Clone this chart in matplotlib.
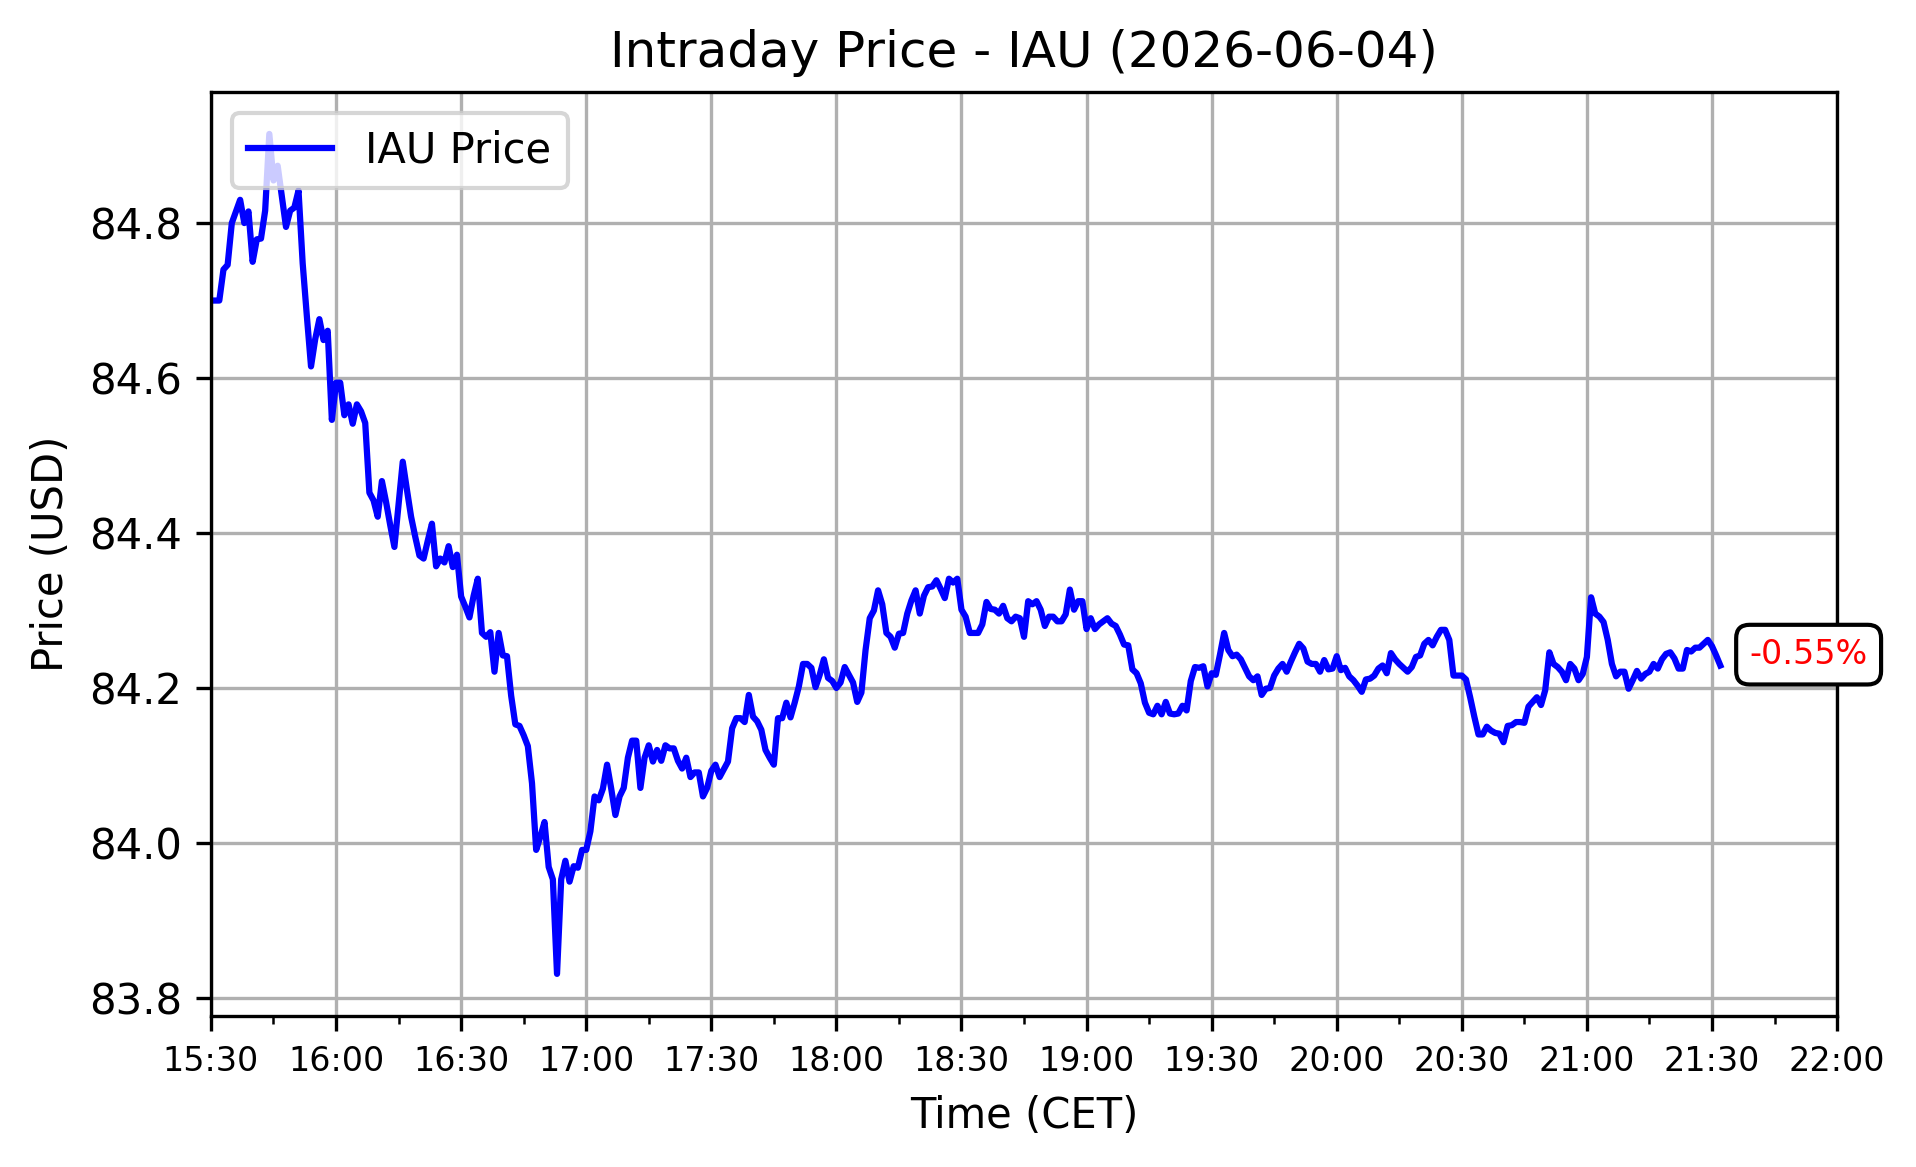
import numpy as np
import pandas as pd
import matplotlib
matplotlib.use('Agg')
import matplotlib.pyplot as plt
import matplotlib.dates as mdates

# IAU Minutenkurse ab 15:30 (CET)
start_time = '2026-06-04 15:30'
prices = [
    84.70, 84.70, 84.70, 84.74, 84.746, 84.80, 84.815, 84.83, 84.80, 84.815,
    84.75, 84.779, 84.78, 84.816, 84.915, 84.855, 84.874, 84.835, 84.795, 84.816,
    84.82, 84.842, 84.748, 84.68, 84.615, 84.65, 84.676, 84.649, 84.661, 84.546,
    84.594, 84.594, 84.552, 84.566, 84.541, 84.566, 84.557, 84.542, 84.452, 84.442,
    84.421, 84.467, 84.44, 84.41, 84.382, 84.437, 84.492, 84.456, 84.421, 84.395,
    84.371, 84.367, 84.39, 84.412, 84.357, 84.367, 84.362, 84.383, 84.356, 84.372,
    84.318, 84.305, 84.291, 84.319, 84.341, 84.271, 84.266, 84.272, 84.221, 84.271,
    84.242, 84.241, 84.19, 84.153, 84.151, 84.139, 84.125, 84.077, 83.991, 84.008,
    84.027, 83.969, 83.953, 83.831, 83.953, 83.977, 83.95, 83.97, 83.968, 83.991,
    83.991, 84.015, 84.06, 84.055, 84.07, 84.101, 84.07, 84.036, 84.06, 84.071,
    84.11, 84.132, 84.132, 84.071, 84.11, 84.126, 84.105, 84.12, 84.106, 84.126,
    84.122, 84.122, 84.106, 84.096, 84.11, 84.085, 84.091, 84.091, 84.06, 84.071,
    84.093, 84.101, 84.085, 84.095, 84.105, 84.148, 84.161, 84.161, 84.156, 84.191,
    84.163, 84.157, 84.146, 84.12, 84.11, 84.101, 84.161, 84.161, 84.181, 84.162,
    84.181, 84.202, 84.231, 84.231, 84.226, 84.201, 84.217, 84.237, 84.213, 84.209,
    84.2, 84.207, 84.227, 84.217, 84.207, 84.182, 84.194, 84.249, 84.29, 84.3,
    84.326, 84.308, 84.271, 84.266, 84.252, 84.27, 84.271, 84.296, 84.313, 84.326,
    84.296, 84.319, 84.33, 84.331, 84.339, 84.328, 84.316, 84.341, 84.336, 84.341,
    84.301, 84.292, 84.271, 84.271, 84.271, 84.282, 84.311, 84.302, 84.301, 84.296,
    84.306, 84.29, 84.286, 84.292, 84.29, 84.266, 84.312, 84.308, 84.312, 84.301,
    84.28, 84.292, 84.292, 84.286, 84.286, 84.295, 84.327, 84.301, 84.312, 84.312,
    84.276, 84.29, 84.276, 84.282, 84.286, 84.29, 84.283, 84.28, 84.269, 84.256,
    84.255, 84.224, 84.219, 84.206, 84.181, 84.168, 84.166, 84.177, 84.166, 84.182,
    84.167, 84.166, 84.167, 84.177, 84.171, 84.209, 84.227, 84.226, 84.228, 84.202,
    84.219, 84.217, 84.243, 84.271, 84.249, 84.241, 84.243, 84.237, 84.226, 84.215,
    84.21, 84.215, 84.191, 84.199, 84.2, 84.216, 84.225, 84.231, 84.221, 84.234,
    84.246, 84.257, 84.251, 84.234, 84.231, 84.231, 84.221, 84.236, 84.224, 84.225,
    84.241, 84.223, 84.226, 84.215, 84.21, 84.203, 84.195, 84.211, 84.212, 84.216,
    84.225, 84.229, 84.219, 84.245, 84.237, 84.231, 84.226, 84.221, 84.227, 84.24,
    84.242, 84.257, 84.262, 84.255, 84.266, 84.275, 84.275, 84.262, 84.216, 84.216,
    84.216, 84.211, 84.188, 84.163, 84.14, 84.14, 84.15, 84.145, 84.142, 84.141,
    84.13, 84.151, 84.152, 84.156, 84.156, 84.155, 84.176, 84.182, 84.188, 84.178,
    84.197, 84.246, 84.231, 84.227, 84.221, 84.21, 84.231, 84.225, 84.21, 84.218,
    84.24, 84.317, 84.296, 84.292, 84.285, 84.262, 84.231, 84.215, 84.221, 84.221,
    84.199, 84.21, 84.222, 84.212, 84.218, 84.221, 84.231, 84.225, 84.237, 84.244,
    84.246, 84.238, 84.225, 84.225, 84.249, 84.247, 84.252, 84.252, 84.257, 84.262,
    84.254, 84.242, 84.229,
]
change_label = '-0.55%'
label_y = 84.243

times = pd.date_range(start_time, periods=len(prices), freq='min')

fig = plt.figure(figsize=(1916 / 300, 1167 / 300), dpi=300)
ax = fig.add_axes([0.1101, 0.1295, 0.8487, 0.7917])

ax.plot(times, prices, color='blue', label='IAU Price')
ax.set_xlim(pd.Timestamp('2026-06-04 15:30'), pd.Timestamp('2026-06-04 22:00'))

ax.xaxis.set_major_locator(mdates.MinuteLocator(byminute=[0, 30]))
ax.xaxis.set_minor_locator(mdates.MinuteLocator(byminute=[15, 45]))
ax.xaxis.set_major_formatter(mdates.DateFormatter('%H:%M'))
ax.tick_params(axis='x', labelsize=8)

ax.text(times[-1] + pd.Timedelta(minutes=7), label_y, change_label, color='red',
        fontsize=8, ha='left', va='center', clip_on=False,
        bbox=dict(facecolor='white', edgecolor='black', boxstyle='round,pad=0.4'))

ax.set_title('Intraday Price - IAU (2026-06-04)')
ax.set_xlabel('Time (CET)')
ax.set_ylabel('Price (USD)')
ax.grid(True)
ax.legend(loc='upper left')

fig.savefig('out.png', dpi=300)
